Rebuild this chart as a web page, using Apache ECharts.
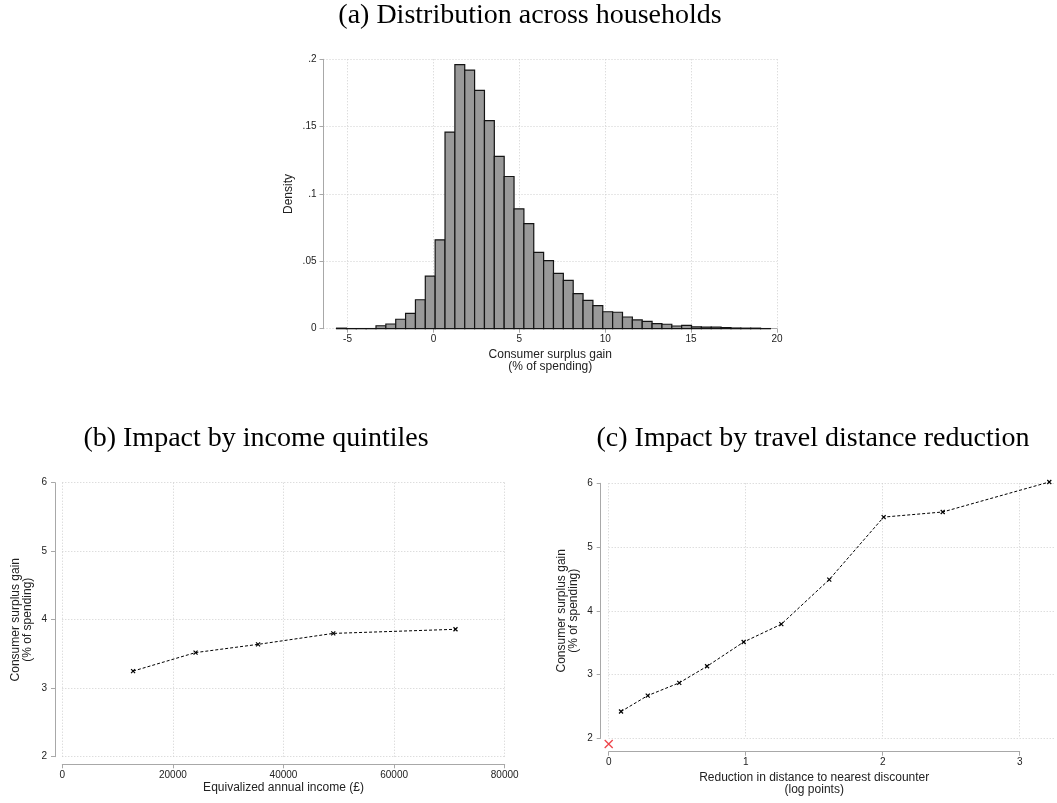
<!DOCTYPE html>
<html>
<head>
<meta charset="utf-8">
<script src="https://cdn.jsdelivr.net/npm/echarts@6/dist/echarts.min.js"></script>
<style>
  html, body { margin: 0; padding: 0; background: #ffffff; }
  #chart { width: 1057px; height: 803px; }
</style>
</head>
<body>
<div id="chart"></div>
<script>
// (a) Histogram of consumer surplus gain, % of spending
const histBinStart = -5.64;
const histBinWidth = 0.574;
const histDensity = [
  0.0004, 0.0001, 0.0001, 0.0001, 0.0022, 0.0035, 0.0070, 0.0114, 0.0215, 0.0390,
  0.0660, 0.1460, 0.1960, 0.1920, 0.1770, 0.1545, 0.1280, 0.1130, 0.0890, 0.0780,
  0.0567, 0.0505, 0.0411, 0.0359, 0.0260, 0.0211, 0.0171, 0.0126, 0.0122, 0.0087,
  0.0065, 0.0055, 0.0037, 0.0033, 0.0020, 0.0025, 0.0013, 0.0012, 0.0011, 0.0009,
  0.0005, 0.0004, 0.0004, 0.0001
];

// (b) Gain by income quintile (mean equivalized income, GBP)
const incomeX = [12800, 24100, 35400, 49000, 71100];
const incomeGain = [3.25, 3.52, 3.64, 3.80, 3.86];

// (c) Gain by reduction in distance to nearest discounter (log points)
const distX = [0.09, 0.285, 0.515, 0.718, 0.985, 1.26, 1.61, 2.007, 2.438, 3.216];
const distGain = [2.42, 2.67, 2.87, 3.13, 3.51, 3.79, 4.49, 5.47, 5.55, 6.02];
const distZero = [[0, 1.91]];

const titles = [
  '(a) Distribution across households',
  '(b) Impact by income quintiles',
  '(c) Impact by travel distance reduction'
];

// histogram bins -> [left edge, right edge, density]
const histData = histDensity.map((d, i) => [
  histBinStart + i * histBinWidth,
  histBinStart + (i + 1) * histBinWidth,
  d
]);

const SANS = 'Liberation Sans';
const SERIF = 'Liberation Serif';
const AXIS_GRAY = '#a8a8a8';
const GRID_GRAY = '#cfcfcf';
const TEXT = '#222';

const gridLine = { show: true, lineStyle: { color: GRID_GRAY, type: [1, 2], width: 1 } };
const noGrid = { show: false };
const axisLineOn = { show: true, onZero: false, lineStyle: { color: AXIS_GRAY, width: 1 } };
const tickOn = { show: true, length: 4, lineStyle: { color: AXIS_GRAY, width: 1 } };
const lbl = (extra) => Object.assign({ color: TEXT, fontFamily: SANS, fontSize: 10 }, extra || {});
const nameStyle = { color: TEXT, fontFamily: SANS, fontSize: 12, lineHeight: 12 };
const cross = 'path://M0,0L10,10M0,10L10,0';
const titleStyle = (text) => ({ text, fontFamily: SERIF, fontSize: 28, fill: '#000', align: 'center', verticalAlign: 'middle' });

// panel (a) geometry: data region spans -6.4..20, tick axis spans -5..20
const aLeft = 323.5, aRight = 777, aMin = -6.4, aMax = 20;
const aPx = (aRight - aLeft) / (aMax - aMin);
// panel (c) geometry: data region spans 0..3.26, tick axis spans 0..3
const cLeft = 608.7, cPx = 137, cDataMax = 3.26, cAxisMax = 3;

const option = {
  animation: false,
  backgroundColor: '#ffffff',
  graphic: [
    { type: 'text', x: 530, y: 16, style: titleStyle(titles[0]) },
    { type: 'text', x: 256, y: 439, style: titleStyle(titles[1]) },
    { type: 'text', x: 813, y: 439, style: titleStyle(titles[2]) }
  ],
  grid: [
    { left: aLeft, top: 59.3, width: aRight - aLeft, height: 269.4 },
    { left: aLeft + (-5 - aMin) * aPx, top: 59.3, width: 25 * aPx, height: 269.4 },
    { left: 62.3, top: 482.7, width: 442.4, height: 274 },
    { left: cLeft, top: 483.3, width: cDataMax * cPx, height: 255 },
    { left: cLeft, top: 483.3, width: cAxisMax * cPx, height: 255 }
  ],
  xAxis: [
    { gridIndex: 0, type: 'value', min: aMin, max: aMax,
      axisLine: { show: false, onZero: false }, axisTick: { show: false }, axisLabel: { show: false }, splitLine: noGrid,
      name: 'Consumer surplus gain\n(% of spending)', nameLocation: 'middle', nameGap: 20, nameTextStyle: nameStyle },
    { gridIndex: 1, type: 'value', min: -5, max: 20, interval: 5,
      axisLine: axisLineOn, axisTick: tickOn, splitLine: gridLine,
      axisLabel: lbl({ margin: 6, formatter: v => String(v) }) },
    { gridIndex: 2, type: 'value', min: 0, max: 80000, interval: 20000, offset: 7.6,
      axisLine: axisLineOn, axisTick: tickOn, splitLine: gridLine,
      axisLabel: lbl({ margin: 6, formatter: v => String(v) }),
      name: 'Equivalized annual income (£)', nameLocation: 'middle', nameGap: 15, nameTextStyle: nameStyle },
    { gridIndex: 3, type: 'value', min: 0, max: cDataMax,
      axisLine: { show: false, onZero: false }, axisTick: { show: false }, axisLabel: { show: false }, splitLine: noGrid },
    { gridIndex: 4, type: 'value', min: 0, max: cAxisMax, interval: 1, offset: 13.4,
      axisLine: axisLineOn, axisTick: tickOn, splitLine: gridLine,
      axisLabel: lbl({ margin: 6, formatter: v => String(v) }),
      name: 'Reduction in distance to nearest discounter\n(log points)', nameLocation: 'middle', nameGap: 20, nameTextStyle: nameStyle }
  ],
  yAxis: [
    { gridIndex: 0, type: 'value', min: 0, max: 0.2, interval: 0.05,
      axisLine: axisLineOn, axisTick: tickOn, splitLine: gridLine,
      axisLabel: lbl({ margin: 7, formatter: v => (v === 0 ? '0' : String(+v.toFixed(2)).replace(/^0/, '')) }),
      name: 'Density', nameLocation: 'middle', nameGap: 29, nameTextStyle: nameStyle },
    { gridIndex: 1, type: 'value', min: 0, max: 0.2, show: false },
    { gridIndex: 2, type: 'value', min: 2, max: 6, interval: 1, offset: 7.3,
      axisLine: axisLineOn, axisTick: tickOn, splitLine: gridLine,
      axisLabel: lbl({ margin: 8 }),
      name: 'Consumer surplus gain\n(% of spending)', nameLocation: 'middle', nameGap: 21, nameTextStyle: nameStyle },
    { gridIndex: 3, type: 'value', min: 2, max: 6, interval: 1, offset: 8,
      axisLine: axisLineOn, axisTick: tickOn, splitLine: gridLine,
      axisLabel: lbl({ margin: 8 }),
      name: 'Consumer surplus gain\n(% of spending)', nameLocation: 'middle', nameGap: 21, nameTextStyle: nameStyle },
    { gridIndex: 4, type: 'value', min: 2, max: 6, show: false }
  ],
  series: [
    {
      type: 'custom', xAxisIndex: 0, yAxisIndex: 0, silent: true, clip: false,
      data: histData,
      encode: { x: [0, 1], y: 2 },
      renderItem: (params, api) => {
        const top = api.coord([api.value(0), api.value(2)]);
        const base = api.coord([api.value(1), 0]);
        return {
          type: 'rect',
          shape: { x: top[0], y: top[1], width: base[0] - top[0], height: base[1] - top[1] },
          style: { fill: '#999999', stroke: '#141414', lineWidth: 1.2 }
        };
      }
    },
    {
      type: 'line', xAxisIndex: 2, yAxisIndex: 2, silent: true, clip: false,
      data: incomeX.map((x, i) => [x, incomeGain[i]]),
      lineStyle: { color: '#000', width: 1, type: [3, 2] },
      symbol: cross, symbolSize: 4, showSymbol: true,
      itemStyle: { color: '#000', borderColor: '#000', borderWidth: 1.2 }
    },
    {
      type: 'line', xAxisIndex: 3, yAxisIndex: 3, silent: true, clip: false,
      data: distX.map((x, i) => [x, distGain[i]]),
      lineStyle: { color: '#000', width: 1, type: [3, 2] },
      symbol: cross, symbolSize: 4, showSymbol: true,
      itemStyle: { color: '#000', borderColor: '#000', borderWidth: 1.2 }
    },
    {
      type: 'scatter', xAxisIndex: 3, yAxisIndex: 3, silent: true, clip: false,
      data: distZero,
      symbol: cross, symbolSize: 8,
      itemStyle: { color: '#e8141c', borderColor: '#e8141c', borderWidth: 1.3 }
    }
  ]
};

const chart = echarts.init(document.getElementById('chart'), null, { renderer: 'canvas' });
chart.setOption(option);
</script>
</body>
</html>
